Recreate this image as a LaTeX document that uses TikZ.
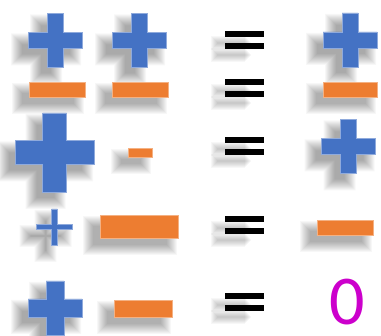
\documentclass[tikz,border=0pt]{standalone}
\usepackage{fontspec}
\newfontfamily\zerofont{Carlito}
\definecolor{signblue}{HTML}{4472C4}
\definecolor{signorange}{HTML}{ED7D31}
\definecolor{zeromagenta}{HTML}{CC00CC}
% outline of a cross: half size, half thickness
\newcommand\crosspath[2]{(-#2,-#1) -- (#2,-#1) -- (#2,-#2) -- (#1,-#2) -- (#1,#2) -- (#2,#2) -- (#2,#1) -- (-#2,#1) -- (-#2,#2) -- (-#1,#2) -- (-#1,-#2) -- (-#2,-#2) -- cycle}
\tikzset{
    signshadow/.style={fill=black,opacity=.03,shift={(-9,9)}},
    pics/plussign/.style 2 args={code={
        \foreach \k in {-3,...,8}
        {
            \pgfmathsetmacro\sa{#1+\k}\pgfmathsetmacro\st{max(#2+\k,1)}
            \fill[signshadow] \crosspath{\sa}{\st};
        }
        \fill[signblue,draw=signblue!60!white,line width=.9pt] \crosspath{#1}{#2};
    }},
    pics/minussign/.style 2 args={code={
        \foreach \k in {-2,...,8}
        {
            \pgfmathsetmacro\sh{max(#2+\k,1)}
            \fill[signshadow] ({-#1-\k},-\sh) rectangle ({#1+\k},\sh);
        }
        \fill[signorange,draw=signorange!60!white,line width=.9pt] (-#1,-#2) rectangle (#1,#2);
    }},
    pics/equalsign/.style={code={
        \foreach \s in {-6,6}
        {
            \foreach \k in {-1,...,5}
                \fill[signshadow,opacity=.03] ({-19.5-\k},{\s-2-\k}) rectangle ({15-\k},{\s+2+\k});
        }
        \foreach \s in {-6,6}
            \fill[black] (-19.5,\s-3) rectangle (19.5,\s+3);
    }},
}
\begin{document}
\begin{tikzpicture}[x=1pt,y=-1pt]
    \useasboundingbox[fill=white] (0,0) rectangle (381,336);
    % row 1
    \pic at (55,40.5) {plussign={27}{8}};
    \pic at (139,40.5) {plussign={27}{8}};
    \pic at (244,40) {equalsign};
    \pic at (350,40) {plussign={27}{8}};
    % row 2
    \pic at (57,89.5) {minussign={28}{7.5}};
    \pic at (140,89.5) {minussign={28}{7.5}};
    \pic at (244,88.5) {equalsign};
    \pic at (350,89.5) {minussign={27}{7.5}};
    % row 3
    \pic at (54.5,152.5) {plussign={39.5}{12}};
    \pic at (140,152.5) {minussign={12}{4.5}};
    \pic at (244,146) {equalsign};
    \pic at (348.5,146.5) {plussign={27}{8}};
    % row 4
    \pic at (54.5,227) {plussign={18}{2.8}};
    \pic at (139,226.5) {minussign={39}{11.5}};
    \pic at (244,225.5) {equalsign};
    \pic at (345,227.5) {minussign={28}{7.5}};
    % row 5
    \pic at (55,308) {plussign={27}{9}};
    \pic at (143,308.5) {minussign={29}{8.5}};
    \pic at (244,302) {equalsign};
    \node[inner sep=0pt,text=zeromagenta,font=\zerofont\fontsize{70}{70}\selectfont] (zero) at (347.5,302.5) {0};
\end{tikzpicture}
\end{document}
